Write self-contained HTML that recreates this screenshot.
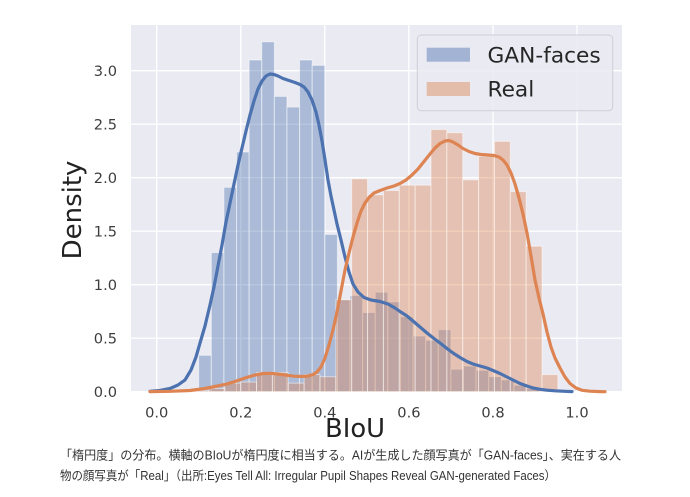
<!DOCTYPE html>
<html>
<head>
<meta charset="utf-8">
<style>
html,body{margin:0;padding:0;background:#fff;}
svg{display:block;}
</style>
</head>
<body>
<svg width="690" height="497" viewBox="0 0 690 497" xmlns="http://www.w3.org/2000/svg">
<rect x="0" y="0" width="690" height="497" fill="#ffffff"/>
<!-- plot area -->
<rect x="131" y="25" width="491" height="367" fill="#eaeaf2"/>
<!-- grid -->
<g stroke="#ffffff" stroke-width="1.4">
<line x1="156.7" y1="25" x2="156.7" y2="392"/>
<line x1="240.8" y1="25" x2="240.8" y2="392"/>
<line x1="324.8" y1="25" x2="324.8" y2="392"/>
<line x1="408.9" y1="25" x2="408.9" y2="392"/>
<line x1="493" y1="25" x2="493" y2="392"/>
<line x1="577" y1="25" x2="577" y2="392"/>
<line x1="131" y1="391.7" x2="622" y2="391.7"/>
<line x1="131" y1="338.2" x2="622" y2="338.2"/>
<line x1="131" y1="284.7" x2="622" y2="284.7"/>
<line x1="131" y1="231.2" x2="622" y2="231.2"/>
<line x1="131" y1="177.7" x2="622" y2="177.7"/>
<line x1="131" y1="124.2" x2="622" y2="124.2"/>
<line x1="131" y1="70.7" x2="622" y2="70.7"/>
</g>
<!-- blue histogram -->
<g fill="#4c72b0" fill-opacity="0.4" stroke="#ffffff" stroke-opacity="0.5" stroke-width="1">
<rect x="198.7" y="355.32" width="12.61" height="36.38"/>
<rect x="211.31" y="252.6" width="12.61" height="139.1"/>
<rect x="223.92" y="187.33" width="12.61" height="204.37"/>
<rect x="236.53" y="152.02" width="12.61" height="239.68"/>
<rect x="249.14" y="60" width="12.61" height="331.7"/>
<rect x="261.75" y="41.81" width="12.61" height="349.89"/>
<rect x="274.36" y="96.38" width="12.61" height="295.32"/>
<rect x="286.97" y="107.08" width="12.61" height="284.62"/>
<rect x="299.58" y="60" width="12.61" height="331.7"/>
<rect x="312.19" y="65.35" width="12.61" height="326.35"/>
<rect x="324.8" y="234.41" width="12.61" height="157.29"/>
<rect x="337.41" y="299.68" width="12.61" height="92.02"/>
<rect x="350.02" y="295.4" width="12.61" height="96.3"/>
<rect x="362.63" y="312.52" width="12.61" height="79.18"/>
<rect x="375.24" y="292.19" width="12.61" height="99.51"/>
<rect x="387.85" y="301.82" width="12.61" height="89.88"/>
<rect x="400.46" y="316.8" width="12.61" height="74.9"/>
<rect x="413.07" y="336.06" width="12.61" height="55.64"/>
<rect x="425.68" y="340.34" width="12.61" height="51.36"/>
<rect x="438.29" y="329.64" width="12.61" height="62.06"/>
<rect x="450.9" y="369.23" width="12.61" height="22.47"/>
<rect x="463.51" y="366.02" width="12.61" height="25.68"/>
<rect x="476.12" y="370.3" width="12.61" height="21.4"/>
<rect x="488.73" y="376.72" width="12.61" height="14.98"/>
<rect x="501.34" y="379.93" width="12.61" height="11.77"/>
<rect x="513.95" y="385.28" width="12.61" height="6.42"/>
<rect x="526.56" y="388.49" width="12.61" height="3.21"/>
</g>
<!-- orange histogram -->
<g fill="#dd8452" fill-opacity="0.4" stroke="#ffffff" stroke-opacity="0.5" stroke-width="1">
<rect x="193.1" y="390.63" width="15.86" height="1.07"/>
<rect x="208.96" y="388.49" width="15.86" height="3.21"/>
<rect x="224.82" y="383.14" width="15.86" height="8.56"/>
<rect x="240.68" y="382.07" width="15.86" height="9.63"/>
<rect x="256.54" y="372.44" width="15.86" height="19.26"/>
<rect x="272.4" y="372.44" width="15.86" height="19.26"/>
<rect x="288.26" y="383.14" width="15.86" height="8.56"/>
<rect x="304.12" y="374.58" width="15.86" height="17.12"/>
<rect x="319.98" y="376.72" width="15.86" height="14.98"/>
<rect x="335.84" y="299.68" width="15.86" height="92.02"/>
<rect x="351.7" y="178.77" width="15.86" height="212.93"/>
<rect x="367.56" y="194.82" width="15.86" height="196.88"/>
<rect x="383.42" y="190.54" width="15.86" height="201.16"/>
<rect x="399.28" y="185.19" width="15.86" height="206.51"/>
<rect x="415.14" y="185.19" width="15.86" height="206.51"/>
<rect x="431" y="129.55" width="15.86" height="262.15"/>
<rect x="446.86" y="132.76" width="15.86" height="258.94"/>
<rect x="462.72" y="179.84" width="15.86" height="211.86"/>
<rect x="478.58" y="156.3" width="15.86" height="235.4"/>
<rect x="494.44" y="141.32" width="15.86" height="250.38"/>
<rect x="510.3" y="191.61" width="15.86" height="200.09"/>
<rect x="526.16" y="246.18" width="15.86" height="145.52"/>
<rect x="542.02" y="374.58" width="15.86" height="17.12"/>
</g>
<!-- blue KDE -->
<polyline fill="none" stroke="#4c72b0" stroke-width="3.2" stroke-linejoin="round" stroke-linecap="round"
points="150,391.3 160,390.5 170,388.5 178,385 185,380 191,370 196,357 200,343 205,326 210,305 214,287 218,266 222,245 226,222 230,203 234,184 238,165 242,148 246,131 250,115 254,101 258,89 262,81 266,76 270,74 274,74.5 278,76 283,78.5 289,80.5 295,82.5 300,84.5 304,87 308,92 312,100 316,112 319,125 322,141 325,160 328,180 331,196 334,210 337,224 341,240 345,257 349,272 353,284 358,292 364,297.5 371,300 380,301.5 388,304 395,308 400,311.5 407,316 413,321 420,327 427,333 434,338.5 440,343 447,348.5 453,353 460,357.5 467,361.5 473,364 480,366 487,368 493,370.5 500,373.5 507,377 514,380.5 520,383.5 527,386 533,388 540,389.3 547,390.2 555,390.8 565,391.3 572,391.6"/>
<!-- orange KDE -->
<polyline fill="none" stroke="#dd8452" stroke-width="3.2" stroke-linejoin="round" stroke-linecap="round"
points="150,391.6 170,391.3 190,390.5 205,388.5 215,386.5 225,384.5 235,381.5 245,378 255,375 263,373.5 270,373.3 278,374 286,375.2 294,376.2 302,376.5 308,376 313,374.5 317,372 321,367 325,358 329,345 333,330 337,312 341,291 345,270 349,253 353,237 357,223 361,211 365,203 369,197.5 374,193 380,190.5 387,188 394,186 400,183.5 406,180 412,175 418,169 424,161.5 430,154 435,148 440,143.5 445,141 449,140.5 453,142 458,145 463,148.5 469,151.5 475,153.5 481,154.5 488,155 494,155.5 499,157 503,160 507,165 511,173 515,184 519,198 523,214 527,233 531,256 535,280 539,298 543,314 547,332 551,347 555,358 560,368 565,377 570,383.5 576,388 582,390.3 590,391.2 600,391.6 605,391.7"/>
<!-- legend -->
<rect x="417.3" y="35" width="195.4" height="75.7" rx="4" ry="4" fill="#eaeaf2" fill-opacity="0.85" stroke="#cfcfd6" stroke-width="1"/>
<rect x="426.7" y="47.7" width="43.3" height="14" fill="#4c72b0" fill-opacity="0.45"/>
<rect x="426.7" y="82" width="43.3" height="14" fill="#dd8452" fill-opacity="0.45"/>
<g font-family="DejaVu Sans, Liberation Sans, sans-serif" font-size="21.7" fill="#262626">
<text x="487.5" y="62.5">GAN-faces</text>
<text x="487.5" y="96.5">Real</text>
</g>
<!-- y tick labels -->
<g font-family="DejaVu Sans, Liberation Sans, sans-serif" font-size="14.6" fill="#3c3c3c" text-anchor="end">
<text x="117" y="397">0.0</text>
<text x="117" y="343.5">0.5</text>
<text x="117" y="290">1.0</text>
<text x="117" y="236.5">1.5</text>
<text x="117" y="183">2.0</text>
<text x="117" y="129.5">2.5</text>
<text x="117" y="76">3.0</text>
</g>
<!-- x tick labels -->
<g font-family="DejaVu Sans, Liberation Sans, sans-serif" font-size="14.6" fill="#3c3c3c" text-anchor="middle">
<text x="156.7" y="417.5">0.0</text>
<text x="240.8" y="417.5">0.2</text>
<text x="324.8" y="417.5">0.4</text>
<text x="408.9" y="417.5">0.6</text>
<text x="493" y="417.5">0.8</text>
<text x="577" y="417.5">1.0</text>
</g>
<!-- axis labels -->
<text x="325" y="437" font-family="DejaVu Sans, Liberation Sans, sans-serif" font-size="26" fill="#222" textLength="60" lengthAdjust="spacingAndGlyphs">BIoU</text>
<text transform="translate(81,210) rotate(-90)" x="0" y="0" text-anchor="middle" font-family="DejaVu Sans, Liberation Sans, sans-serif" font-size="26" fill="#222">Density</text>
<!-- caption -->
<g font-family="Liberation Sans, Noto Sans CJK JP, sans-serif" font-size="12.5" fill="#333">
<text x="60" y="459.5" textLength="561" lengthAdjust="spacingAndGlyphs">「楕円度」の分布。横軸のBIoUが楕円度に相当する。AIが生成した顔写真が「GAN-faces」、実在する人</text>
<text x="60" y="480" textLength="496" lengthAdjust="spacingAndGlyphs">物の顔写真が「Real」（出所:Eyes Tell All: Irregular Pupil Shapes Reveal GAN-generated Faces）</text>
</g>
</svg>
</body>
</html>
